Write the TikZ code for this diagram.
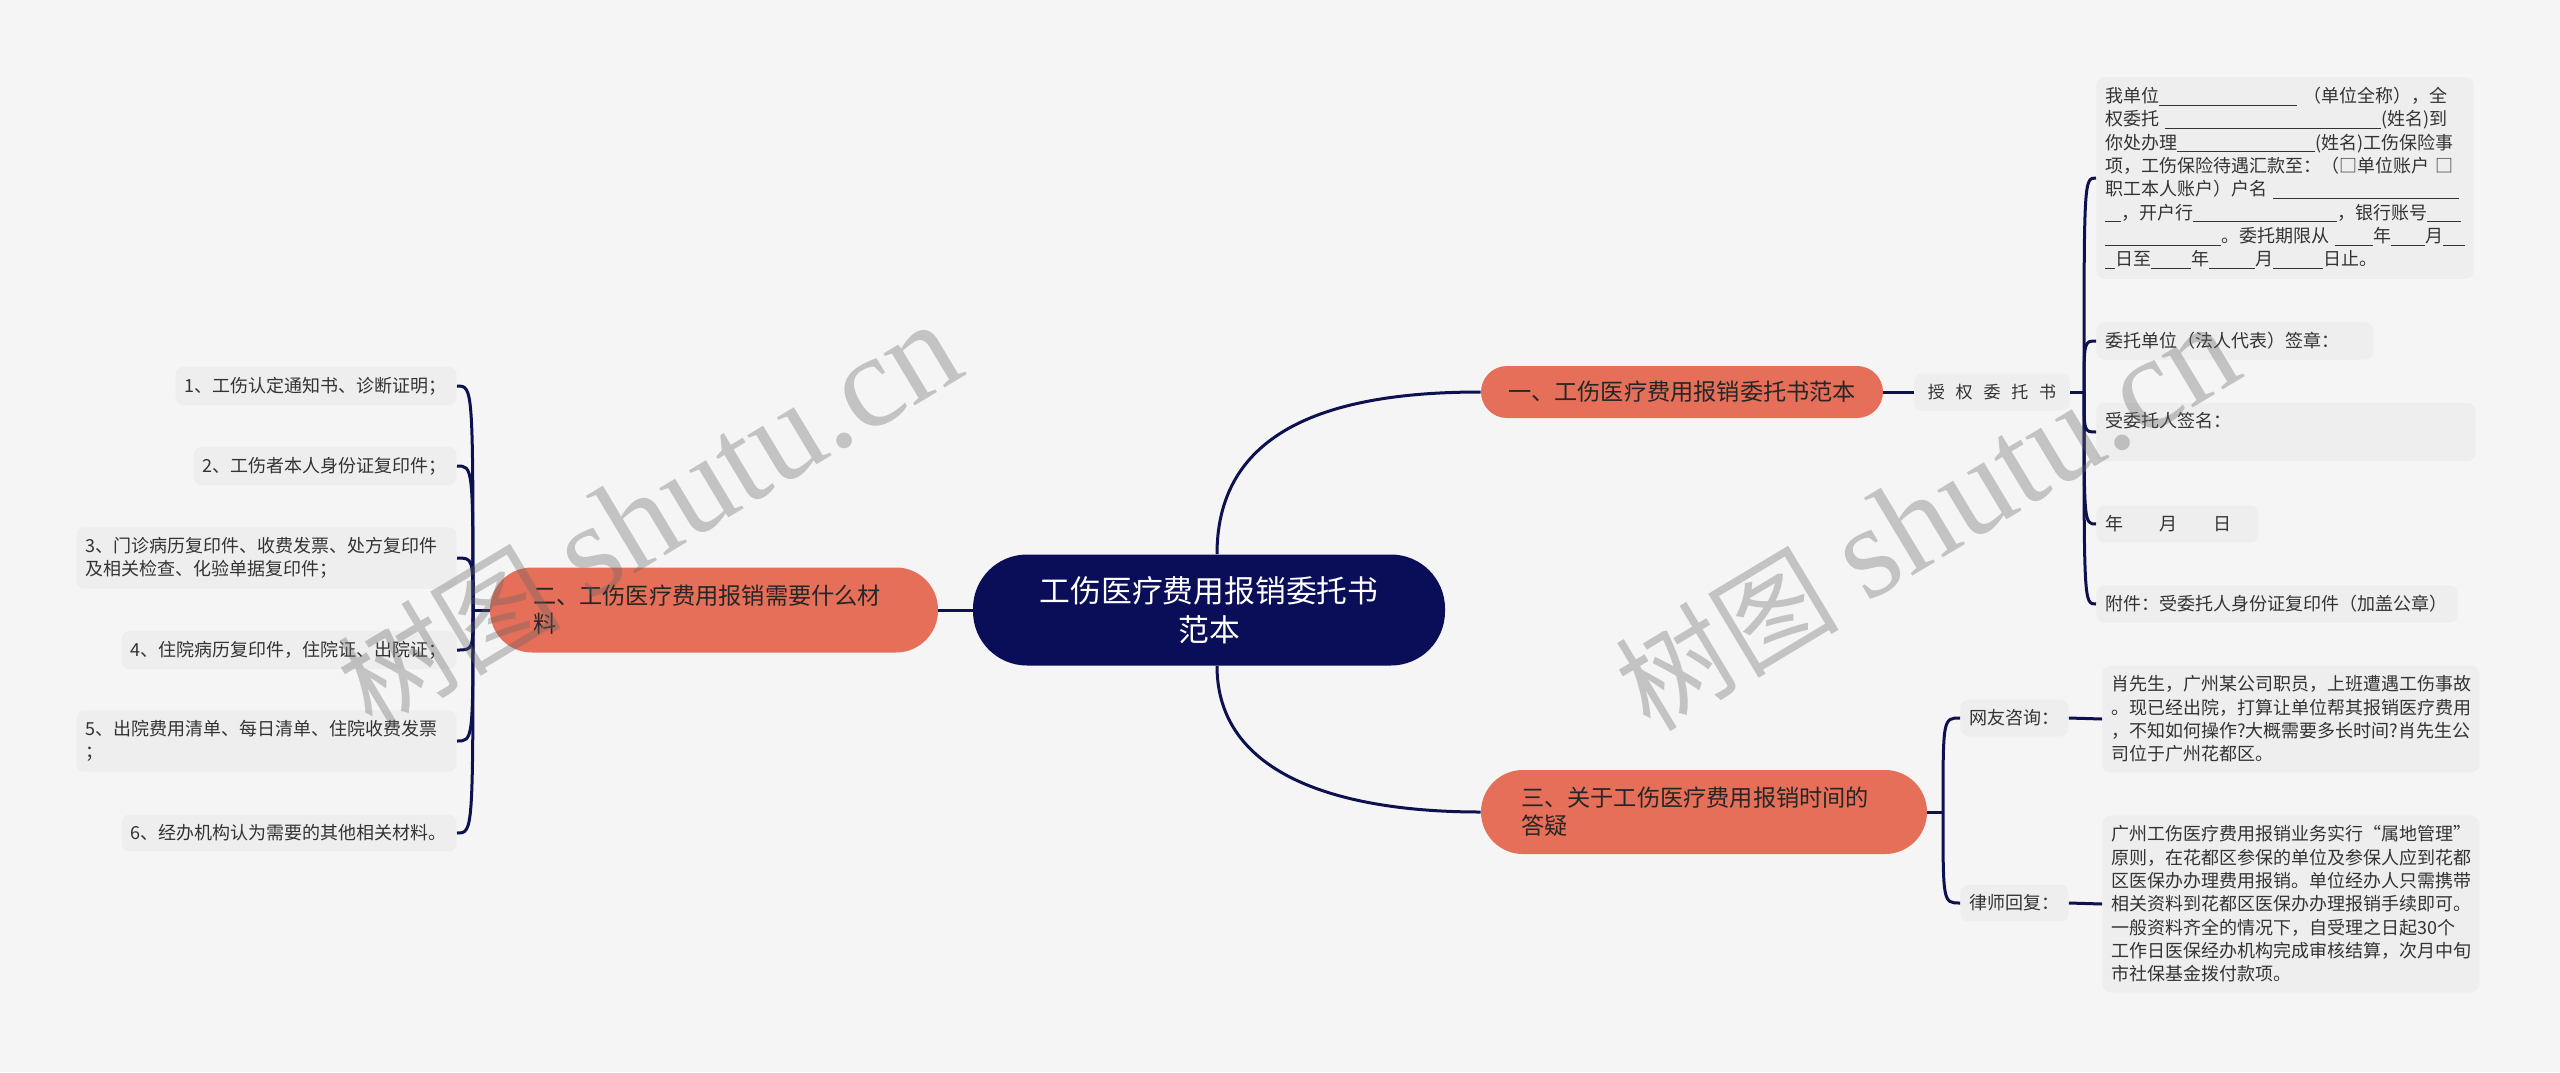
\documentclass[tikz,border=0pt]{standalone}
\usepackage{fontspec}
\setmainfont{Noto Sans CJK SC}
\newfontfamily\wmlatin{Liberation Serif}
\usetikzlibrary{calc}

\definecolor{navy}{HTML}{0A0D57}
\definecolor{linkc}{HTML}{0E114F}
\definecolor{salmon}{HTML}{E56F59}
\definecolor{boxgray}{HTML}{EEEEEE}
\definecolor{bggray}{HTML}{F5F5F5}

\newcommand\ulgap[1]{\rule[-1.6pt]{#1pt}{0.5pt}}

\begin{document}
\begin{tikzpicture}[
    x=0.5pt, y=-0.5pt,
    rootbox/.style={fill=navy, text=white, rounded corners=27pt, minimum width=236pt, minimum height=55.5pt, align=center, inner sep=0pt, font=\fontsize{15.4}{19.5}\selectfont},
    topic/.style={fill=salmon, text=black!85, inner sep=0pt, font=\fontsize{11.6}{14}\selectfont},
    leaf/.style={fill=boxgray, text=black!80, rounded corners=4pt, inner xsep=4.5pt, inner ysep=5pt, align=left, font=\fontsize{9}{11.65}\selectfont},
    link/.style={draw=linkc, line width=1.5pt},
    wmark/.style={text=black!60, opacity=0.35, rotate=31},
]

\fill[bggray] (0,0) rectangle (2560,1072);
\useasboundingbox (0,0) rectangle (2560,1072);

% root and main topics
\node[rootbox] (root) at (1209,610) {工伤医疗费用报销委托书\\范本};
\node[topic, minimum width=201pt, minimum height=26pt, rounded corners=13pt] (t1) at (1682,392) {一、工伤医疗费用报销委托书范本};
\node[topic, minimum width=224pt, minimum height=42.5pt, rounded corners=21pt, text width=181pt, align=left] (t2) at (714,610) {二、工伤医疗费用报销需要什么材\\料};
\node[topic, minimum width=223pt, minimum height=42pt, rounded corners=21pt, text width=183pt, align=left] (t3) at (1704,812) {三、关于工伤医疗费用报销时间的\\答疑};

% topic one
\node[leaf, inner sep=0pt, minimum width=78pt, minimum height=18.5pt, align=center, font=\fontsize{8.5}{10}\selectfont] (auth) at (1992,392) {\spaceskip=5.4pt\relax 授 权 委 托 书};

\node[leaf, anchor=west, text width=179.5pt] (a1) at (2096,178) {我单位\ulgap{69}~（单位全称），全\\
权委托~\ulgap{108}(姓名)到\\
你处办理\ulgap{69}(姓名)工伤保险事\\
项，工伤保险待遇汇款至：（□单位账户~□\\
职工本人账户）户名~\ulgap{93}\\
\ulgap{8}，开户行\ulgap{72}，银行账号\ulgap{17}\\
\ulgap{58}。委托期限从~\ulgap{19}年\ulgap{17}月\ulgap{11}\\
\ulgap{5}日至\ulgap{20}年\ulgap{23}月\ulgap{25}日止。};
\node[leaf, anchor=west, text width=129.5pt] (a2) at (2096,341) {委托单位（法人代表）签章：};
\node[leaf, anchor=west, text width=180.5pt] (a3) at (2096,432) {受委托人签名：\\\mbox{}};
\node[leaf, anchor=west, text width=72pt] (a4) at (2096,524) {年\hspace{18pt}月\hspace{18pt}日};
\node[leaf, anchor=west, text width=171.5pt] (a5) at (2096,604) {附件：受委托人身份证复印件（加盖公章）};

% topic two
\node[leaf, anchor=east, text width=131.5pt] (m1) at (457,386) {1、工伤认定通知书、诊断证明；};
\node[leaf, anchor=east, text width=122.5pt] (m2) at (457,466) {2、工伤者本人身份证复印件；};
\node[leaf, anchor=east, text width=181pt] (m3) at (457,558) {3、门诊病历复印件、收费发票、处方复印件\\及相关检查、化验单据复印件；};
\node[leaf, anchor=east, text width=158.5pt] (m4) at (457,650) {4、住院病历复印件，住院证、出院证；};
\node[leaf, anchor=east, text width=181pt] (m5) at (457,741) {5、出院费用清单、每日清单、住院收费发票\\；};
\node[leaf, anchor=east, text width=158.5pt] (m6) at (457,833) {6、经办机构认为需要的其他相关材料。};

% topic three
\node[leaf, anchor=west] (ask) at (1960,718) {网友咨询：};
\node[leaf, anchor=west] (reply) at (1960,903) {律师回复：};
\node[leaf, anchor=west, text width=179.5pt] (askt) at (2102,719) {肖先生，广州某公司职员，上班遭遇工伤事故\\
。现已经出院，打算让单位帮其报销医疗费用\\
，不知如何操作?大概需要多长时间?肖先生公\\
司位于广州花都区。};
\node[leaf, anchor=west, text width=179.5pt] (replyt) at (2102,904) {广州工伤医疗费用报销业务实行“属地管理”\\
原则，在花都区参保的单位及参保人应到花都\\
区医保办办理费用报销。单位经办人只需携带\\
相关资料到花都区医保办办理报销手续即可。\\
一般资料齐全的情况下，自受理之日起30个\\
工作日医保经办机构完成审核结算，次月中旬\\
市社保基金拨付款项。};

% joints
\coordinate (j1) at (2084,392);
\coordinate (j2) at (473,610);
\coordinate (j3) at (1943,812);

% connectors
\draw[link] ($(root.north)+(8,0)$) .. controls ($(root.north)+(8,-130)$) and ($(t1.west)+(-140,0)$) .. (t1.west);
\draw[link] ($(root.south)+(8,0)$) .. controls ($(root.south)+(8,110)$) and ($(t3.west)+(-140,0)$) .. (t3.west);
\draw[link] (root.west) -- (t2.east);

\draw[link] (t1.east) -- (auth.west);
\draw[link] (auth.east) -- (j1);
\foreach \n in {a1,a2,a3,a4,a5}
    \draw[link] (j1) .. controls (j1 |- \n.west) .. (\n.west);

\draw[link] (t2.west) -- (j2);
\foreach \n in {m1,m2,m3,m4,m5,m6}
    \draw[link] (j2) .. controls (j2 |- \n.east) .. (\n.east);

\draw[link] (t3.east) -- (j3);
\foreach \n in {ask,reply}
    \draw[link] (j3) .. controls (j3 |- \n.west) .. (\n.west);
\draw[link] (ask.east) -- (askt.west);
\draw[link] (reply.east) -- (replyt.west);

% watermark
\node[wmark] (wm1) at (649,516) {{\fontsize{56}{60}\selectfont 树图}\hspace{14pt}{\wmlatin\fontsize{66}{70}\selectfont shutu.cn}};
\node[wmark] (wm2) at (1927,518) {{\fontsize{56}{60}\selectfont 树图}\hspace{14pt}{\wmlatin\fontsize{66}{70}\selectfont shutu.cn}};

\end{tikzpicture}
\end{document}
